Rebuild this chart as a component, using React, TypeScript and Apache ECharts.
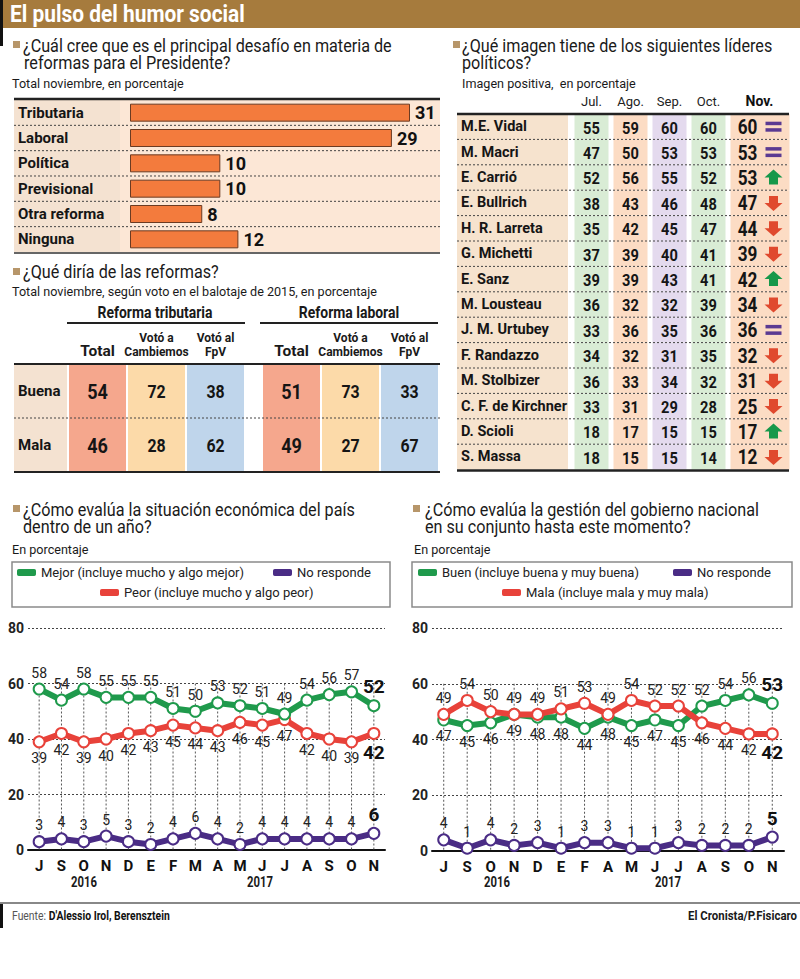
import React, { useEffect, useRef } from 'react';
import * as echarts from 'echarts';

const FONT = "Roboto, 'DejaVu Sans', sans-serif";

// ---------- DATA ----------
const reformCategories = ['Tributaria', 'Laboral', 'Política', 'Previsional', 'Otra reforma', 'Ninguna'];
const reformValues = [31, 29, 10, 10, 8, 12];

const opinionRows = ['Buena', 'Mala'];
const opinionCols = ['Total', 'Votó a\nCambiemos', 'Votó al\nFpV'];
const tributariaValues = [[54, 72, 38], [46, 28, 62]];
const laboralValues = [[51, 73, 33], [49, 27, 67]];

const leaderNames = ['M.E. Vidal', 'M. Macri', 'E. Carrió', 'E. Bullrich', 'H. R. Larreta', 'G. Michetti', 'E. Sanz',
  'M. Lousteau', 'J. M. Urtubey', 'F. Randazzo', 'M. Stolbizer', 'C. F. de Kirchner', 'D. Scioli', 'S. Massa'];
const leaderMonths = ['Jul.', 'Ago.', 'Sep.', 'Oct.', 'Nov.'];
const leaderJul = [55, 47, 52, 38, 35, 37, 39, 36, 33, 34, 36, 33, 18, 18];
const leaderAgo = [59, 50, 56, 43, 42, 39, 39, 32, 36, 32, 33, 31, 17, 15];
const leaderSep = [60, 53, 55, 46, 45, 40, 43, 32, 35, 31, 34, 29, 15, 15];
const leaderOct = [60, 53, 52, 48, 47, 41, 41, 39, 36, 35, 32, 28, 15, 14];
const leaderNov = [60, 53, 53, 47, 44, 39, 42, 34, 36, 32, 31, 25, 17, 12];

const economyMonths = ['J', 'S', 'O', 'N', 'D', 'E', 'F', 'M', 'A', 'M', 'J', 'J', 'A', 'S', 'O', 'N'];
const economyBetter = [58, 54, 58, 55, 55, 55, 51, 50, 53, 52, 51, 49, 54, 56, 57, 52];
const economyWorse = [39, 42, 39, 40, 42, 43, 45, 44, 43, 46, 45, 47, 42, 40, 39, 42];
const economyNR = [3, 4, 3, 5, 3, 2, 4, 6, 4, 2, 4, 4, 4, 4, 4, 6];

const govMonths = ['J', 'S', 'O', 'N', 'D', 'E', 'F', 'A', 'M', 'J', 'J', 'A', 'S', 'O', 'N'];
const govGood = [47, 45, 46, 49, 48, 48, 44, 48, 45, 47, 45, 52, 54, 56, 53];
const govBad = [49, 54, 50, 49, 49, 51, 53, 49, 54, 52, 52, 46, 44, 42, 42];
const govNR = [4, 1, 4, 2, 3, 1, 3, 3, 1, 1, 3, 2, 2, 2, 5];

const yTicks = { min: 0, max: 80, interval: 20 };

// ---------- STYLE ----------
const GREEN = '#1f9a4c';
const RED = '#e8423a';
const PURPLE = '#4a2c85';
const BROWN = '#a67b3d';
const BULLET = '#b7966a';
const opinionColors = ['#f5a78d', '#fcdaa9', '#bfd5eb'];
const leaderColors = ['#d9ecd5', '#fcdcc4', '#e4daee', '#d9ecd5', '#fcdcc4'];

let measureCtx: CanvasRenderingContext2D | null = null;
function textWidth(t: string, size: number, weight: string) {
  if (!measureCtx) measureCtx = document.createElement('canvas').getContext('2d');
  if (!measureCtx) return 0;
  measureCtx.font = `${weight} ${size}px ${FONT}`;
  return measureCtx.measureText(t).width;
}
function fitScale(t: string, size: number, weight: string, target: number) {
  const w = textWidth(t, size, weight);
  return w > 0 ? target / w : 1;
}

function buildOption() {
  const sHead = fitScale('El pulso del humor social', 23, 'bold', 235);
  const sTitle = fitScale('¿Cuál cree que es el principal desafío en materia de', 18, 'normal', 369);
  const sSub = fitScale('Total noviembre, en porcentaje', 13.5, 'normal', 172);
  const sRef = fitScale('Reforma tributaria', 16, 'bold', 115);
  const sYear = fitScale('2016', 14, 'bold', 26);
  const sFoot = 158 / Math.max(1, textWidth('Fuente: ', 12.5, 'normal') + textWidth("D'Alessio Irol, Berensztein", 12.5, 'bold'));
  const sCred = fitScale('El Cronista/P.Fisicaro', 12.5, 'bold', 109);

  const g: any[] = [];
  const rect = (x: number, y: number, w: number, h: number, fill: string, z = 0) =>
    g.push({ type: 'rect', shape: { x, y, width: w, height: h }, style: { fill }, z, silent: true });
  const box = (x: number, y: number, w: number, h: number) =>
    g.push({ type: 'rect', shape: { x, y, width: w, height: h }, style: { fill: 'none', stroke: '#8a8a8a', lineWidth: 1.5 }, z: 5, silent: true });
  const line = (x1: number, y1: number, x2: number, y2: number, stroke: string, lw: number, dash?: number[]) =>
    g.push({ type: 'line', shape: { x1, y1, x2, y2 }, style: { stroke, lineWidth: lw, lineDash: dash }, z: 50, silent: true });
  const text = (x: number, y: number, t: string, size: number, scale: number, opts: any = {}) =>
    g.push({
      type: 'text', x, y, z: 60, silent: true, scaleX: scale,
      style: {
        text: t, fontSize: size, fontFamily: FONT, fontWeight: opts.bold ? 'bold' : 'normal',
        fill: opts.color || '#1a1a1a', align: opts.align || 'left', verticalAlign: 'middle',
        textAlign: opts.align || 'left', textVerticalAlign: 'middle', rich: opts.rich,
      },
    });

  // header
  rect(0, 0, 800, 28, BROWN);
  rect(0, 0, 3, 46, '#111', 1);
  text(10, 14, 'El pulso del humor social', 23, sHead, { bold: true, color: '#fff' });

  // Q1
  rect(13, 41, 7, 7, BULLET);
  text(23, 46, '¿Cuál cree que es el principal desafío en materia de', 18, sTitle);
  text(24, 63, 'reformas para el Presidente?', 18, sTitle);
  text(12, 83, 'Total noviembre, en porcentaje', 13.5, sSub);
  rect(14, 100, 106, 152, '#f4e2d1');
  rect(120, 100, 320, 152, '#fce7d6');
  line(14, 99, 440, 99, '#222', 2.5);
  for (let k = 1; k < reformCategories.length; k++) line(14, 100 + k * 25.33, 440, 100 + k * 25.33, '#444', 1, [2, 2]);
  line(14, 253, 440, 253, '#333', 1.5);

  // Q2
  rect(13, 268, 7, 7, BULLET);
  text(23, 272, '¿Qué diría de las reformas?', 18, sTitle);
  text(12, 291, 'Total noviembre, según voto en el balotaje de 2015, en porcentaje', 13.5, sSub);
  text(155, 313, 'Reforma tributaria', 16, sRef, { bold: true, align: 'center' });
  text(349, 313, 'Reforma laboral', 16, sRef, { bold: true, align: 'center' });
  line(67, 323, 245, 323, '#222', 2);
  line(260, 323, 438, 323, '#222', 2);
  rect(14, 364, 53, 108, '#f4e2d1');
  line(14, 364, 440, 364, '#222', 2);
  line(14, 418, 440, 418, '#444', 1, [2, 2]);
  line(14, 472, 440, 472, '#222', 2);

  // Q3
  rect(453, 41, 7, 7, BULLET);
  text(462, 46, '¿Qué imagen tiene de los siguientes líderes', 18, sTitle);
  text(462, 63, 'políticos?', 18, sTitle);
  text(462, 83, 'Imagen positiva,  en porcentaje', 13.5, sSub);
  const LT = 114, LH = 25.4;
  rect(457, LT, 111, LH * leaderNames.length, '#f6e3ce');
  line(457, LT, 789, LT, '#222', 2.5);
  for (let k = 1; k < leaderNames.length; k++) line(457, LT + k * LH, 789, LT + k * LH, '#444', 1, [2, 2]);
  line(457, LT + LH * leaderNames.length + 1, 789, LT + LH * leaderNames.length + 1, '#222', 2.5);

  // Q4
  rect(13, 505, 7, 7, BULLET);
  text(23, 510, '¿Cómo evalúa la situación económica del país', 18, sTitle);
  text(23, 527, 'dentro de un año?', 18, sTitle);
  text(12, 549, 'En porcentaje', 13.5, sSub);
  box(12, 562, 378, 45);
  text(84, 882, '2016', 14, sYear, { bold: true, align: 'center' });
  text(260, 882, '2017', 14, sYear, { bold: true, align: 'center' });

  // Q5
  rect(413, 505, 7, 7, BULLET);
  text(425, 510, '¿Cómo evalúa la gestión del gobierno nacional', 18, sTitle);
  text(425, 527, 'en su conjunto hasta este momento?', 18, sTitle);
  text(414, 549, 'En porcentaje', 13.5, sSub);
  box(412, 562, 380, 45);
  text(497, 882, '2016', 14, sYear, { bold: true, align: 'center' });
  text(668, 882, '2017', 14, sYear, { bold: true, align: 'center' });

  // footer
  line(0, 903, 800, 903, '#888', 2);
  rect(0, 903, 3, 25, '#111', 1);
  text(12, 916, "{a|Fuente: }{b|D'Alessio Irol, Berensztein}", 12.5, sFoot, {
    rich: {
      a: { fontSize: 12.5, fontFamily: FONT, fill: '#555', color: '#555' },
      b: { fontSize: 12.5, fontFamily: FONT, fontWeight: 'bold', fill: '#111', color: '#111' },
    },
  });
  text(797, 916, 'El Cronista/P.Fisicaro', 12.5, sCred, { bold: true, align: 'right' });

  // ---------- tables ----------
  const tableData = (vals: number[][]) => {
    const out: number[][] = [];
    vals.forEach((row, r) => row.forEach((v, c) => out.push([c, r, v])));
    return out;
  };
  const cellText = (x: number, y: number, v: number, size: number) => ({
    type: 'text', x, y, scaleX: 0.86,
    style: { text: String(v), fontSize: size, fontWeight: 'bold', fontFamily: FONT, fill: '#151515', align: 'center', verticalAlign: 'middle', textAlign: 'center', textVerticalAlign: 'middle' },
  });
  const opinionRender = (params: any, api: any) => {
    const c = api.value(0), r = api.value(1), v = api.value(2);
    const p = api.coord([c, r]);
    const s = api.size([1, 1]);
    return {
      type: 'group',
      children: [
        { type: 'rect', shape: { x: p[0] - s[0] / 2 + 1, y: p[1] - s[1] / 2, width: s[0] - 2, height: s[1] }, style: { fill: opinionColors[c] } },
        cellText(p[0], p[1] + 1, v, c === 0 ? 21 : 18.5),
      ],
    };
  };

  const leaderCols = [leaderJul, leaderAgo, leaderSep, leaderOct, leaderNov];
  const leaderData: number[][] = [];
  leaderNames.forEach((_, r) => {
    leaderCols.forEach((col, c) => {
      const trend = c === 4 ? Math.sign(leaderNov[r] - leaderOct[r]) : 0;
      leaderData.push([c, r, col[r], trend]);
    });
  });
  const leaderRender = (params: any, api: any) => {
    const c = api.value(0), r = api.value(1), v = api.value(2), t = api.value(3);
    const p = api.coord([c, r]);
    const s = api.size([1, 1]);
    const w = s[0] - 5;
    const children: any[] = [
      { type: 'rect', shape: { x: p[0] - w / 2, y: p[1] - s[1] / 2, width: c === 4 ? w + 25 : w, height: s[1] }, style: { fill: leaderColors[c] } },
      cellText(p[0], p[1] + 1, v, c === 4 ? 20 : 17),
    ];
    if (c === 4) {
      const sx = p[0] + 26, cy = p[1];
      if (t === 0) {
        children.push({ type: 'rect', shape: { x: sx - 8, y: cy - 5, width: 16, height: 3.5 }, style: { fill: '#5b3a92' } });
        children.push({ type: 'rect', shape: { x: sx - 8, y: cy + 1.5, width: 16, height: 3.5 }, style: { fill: '#5b3a92' } });
      } else if (t > 0) {
        children.push({ type: 'polygon', shape: { points: [[sx, cy - 8], [sx + 9, cy], [sx + 4.5, cy], [sx + 4.5, cy + 7], [sx - 4.5, cy + 7], [sx - 4.5, cy], [sx - 9, cy]] }, style: { fill: '#16984a' } });
      } else {
        children.push({ type: 'polygon', shape: { points: [[sx, cy + 8], [sx + 9, cy], [sx + 4.5, cy], [sx + 4.5, cy - 7], [sx - 4.5, cy - 7], [sx - 4.5, cy], [sx - 9, cy]] }, style: { fill: '#e0492e' } });
      }
    }
    return { type: 'group', children };
  };

  // ---------- line charts ----------
  const lineSeries = (name: string, values: number[], other: number[] | null, priority: boolean, color: string, ai: number, z: number) => {
    const last = values.length - 1;
    return {
      type: 'line', name, xAxisIndex: ai, yAxisIndex: ai, z,
      data: values.map((v, i) => ({
        value: v,
        label: {
          position: other ? ((priority ? v >= other[i] : v > other[i]) ? 'top' : 'bottom') : 'top',
          ...(i === last ? { fontSize: 19, fontWeight: 'bold', color: '#111' } : {}),
        },
      })),
      symbol: 'emptyCircle', symbolSize: 11, showAllSymbol: true,
      lineStyle: { color, width: 6 },
      itemStyle: { color, borderWidth: 2.5 },
      label: { show: true, fontSize: 14, color: '#222', fontFamily: FONT, distance: 3 },
      emphasis: { disabled: true },
    };
  };
  const dropLines = (months: string[], ai: number) => ({
    type: 'custom', xAxisIndex: ai, yAxisIndex: ai, z: 1, silent: true,
    data: months.map((_, i) => [i, 0]),
    renderItem: (params: any, api: any) => {
      const i = api.value(0);
      const a = api.coord([i, 60]);
      const b = api.coord([i, 0]);
      return { type: 'line', shape: { x1: a[0], y1: a[1], x2: b[0], y2: b[1] }, style: { stroke: '#555', lineWidth: 1, lineDash: [2, 2] } };
    },
  });

  const catLineX = (months: string[], gi: number) => ({
    type: 'category', gridIndex: gi, data: months, boundaryGap: true,
    axisLine: { lineStyle: { color: '#111', width: 2 } }, axisTick: { show: false },
    axisLabel: { fontSize: 15, fontWeight: 'bold', color: '#111', fontFamily: FONT, margin: 8, interval: 0 },
    splitLine: { show: false },
  });
  const valLineY = (gi: number) => ({
    type: 'value', gridIndex: gi, ...yTicks,
    axisLine: { show: false }, axisTick: { show: false },
    axisLabel: { fontSize: 14, fontWeight: 'bold', color: '#222', fontFamily: FONT, margin: 4 },
    splitLine: { lineStyle: { color: '#444', type: [2, 2], width: 1 } },
  });

  const legendBase = {
    icon: 'roundRect', itemWidth: 19, itemHeight: 7, padding: 0, selectedMode: false,
    textStyle: { fontSize: 13, color: '#222', fontFamily: FONT },
  };
  const leg = (name: string, color: string, left: number, top: number) => ({
    ...legendBase, left, top, data: [{ name, itemStyle: { color, borderWidth: 0 } }],
  });

  const hiddenAxis = { axisLine: { show: false }, axisTick: { show: false }, splitLine: { show: false } };
  const opinionHeader = {
    interval: 0, margin: 5, color: '#1a1a1a', fontFamily: FONT,
    formatter: (v: string, i: number) => (i === 0 ? `{t|${v}}` : `{s|${v}}`),
    rich: { t: { fontSize: 15.5, fontWeight: 'bold', fontFamily: FONT }, s: { fontSize: 12, fontWeight: 'bold', lineHeight: 14, fontFamily: FONT, align: 'center' } },
  };

  return {
    animation: false,
    backgroundColor: '#fff',
    textStyle: { fontFamily: FONT },
    graphic: { elements: g },
    legend: [
      leg('Mejor (incluye mucho y algo mejor)', GREEN, 17, 566),
      leg('No responde', PURPLE, 273, 566),
      leg('Peor (incluye mucho y algo peor)', RED, 100, 586),
      leg('Buen (incluye buena y muy buena)', GREEN, 418, 566),
      leg('No responde ', PURPLE, 673, 566),
      leg('Mala (incluye mala y muy mala)', RED, 502, 586),
    ],
    grid: [
      { left: 130, top: 100, width: 280, height: 152 },
      { left: 68, top: 364, width: 177, height: 108 },
      { left: 262, top: 364, width: 177, height: 108 },
      { left: 572, top: LT, width: 195, height: LH * leaderNames.length },
      { left: 28, top: 628, width: 357, height: 222 },
      { left: 432, top: 628, width: 352, height: 223 },
    ],
    xAxis: [
      { type: 'value', gridIndex: 0, min: 0, max: 31, show: false },
      { type: 'category', gridIndex: 1, data: opinionCols, position: 'top', ...hiddenAxis, axisLabel: opinionHeader },
      { type: 'category', gridIndex: 2, data: opinionCols, position: 'top', ...hiddenAxis, axisLabel: opinionHeader },
      {
        type: 'category', gridIndex: 3, data: leaderMonths, position: 'top', ...hiddenAxis,
        axisLabel: {
          interval: 0, margin: 6, fontSize: 13, color: '#222', fontFamily: FONT,
          formatter: (v: string, i: number) => (i === 4 ? `{n|${v}}` : v),
          rich: { n: { fontSize: 14, fontWeight: 'bold', color: '#111', fontFamily: FONT, padding: [0, 0, 0, 24] } },
        },
      },
      catLineX(economyMonths, 4),
      catLineX(govMonths, 5),
    ],
    yAxis: [
      {
        type: 'category', gridIndex: 0, data: reformCategories, inverse: true, ...hiddenAxis,
        axisLabel: { align: 'left', margin: 112, fontSize: 15, fontWeight: 'bold', color: '#151515', fontFamily: FONT },
      },
      {
        type: 'category', gridIndex: 1, data: opinionRows, inverse: true, ...hiddenAxis,
        axisLabel: { align: 'left', margin: 50, fontSize: 15, fontWeight: 'bold', color: '#151515', fontFamily: FONT },
      },
      { type: 'category', gridIndex: 2, data: opinionRows, inverse: true, ...hiddenAxis, axisLabel: { show: false } },
      {
        type: 'category', gridIndex: 3, data: leaderNames, inverse: true, ...hiddenAxis,
        axisLabel: { align: 'left', margin: 111, fontSize: 14.5, fontWeight: 'bold', color: '#151515', fontFamily: FONT, interval: 0 },
      },
      valLineY(4),
      valLineY(5),
    ],
    series: [
      {
        type: 'bar', xAxisIndex: 0, yAxisIndex: 0, data: reformValues, barWidth: 18,
        itemStyle: { color: '#f37b3d', borderColor: '#6b3b22', borderWidth: 1 },
        label: { show: true, position: 'right', distance: 5, fontSize: 18, fontWeight: 'bold', color: '#111', fontFamily: FONT },
        emphasis: { disabled: true },
      },
      { type: 'custom', xAxisIndex: 1, yAxisIndex: 1, data: tableData(tributariaValues), renderItem: opinionRender, silent: true },
      { type: 'custom', xAxisIndex: 2, yAxisIndex: 2, data: tableData(laboralValues), renderItem: opinionRender, silent: true },
      { type: 'custom', xAxisIndex: 3, yAxisIndex: 3, data: leaderData, renderItem: leaderRender, silent: true },
      dropLines(economyMonths, 4),
      lineSeries('No responde', economyNR, null, true, PURPLE, 4, 3),
      lineSeries('Peor (incluye mucho y algo peor)', economyWorse, economyBetter, false, RED, 4, 4),
      lineSeries('Mejor (incluye mucho y algo mejor)', economyBetter, economyWorse, true, GREEN, 4, 5),
      dropLines(govMonths, 5),
      lineSeries('No responde ', govNR, null, true, PURPLE, 5, 3),
      lineSeries('Buen (incluye buena y muy buena)', govGood, govBad, false, GREEN, 5, 4),
      lineSeries('Mala (incluye mala y muy mala)', govBad, govGood, true, RED, 5, 5),
    ],
  };
}

export default function App() {
  const ref = useRef<HTMLDivElement>(null);
  useEffect(() => {
    document.body.style.margin = '0';
    const chart = echarts.init(ref.current!, null, { renderer: 'svg' });
    chart.setOption(buildOption() as any);
    return () => chart.dispose();
  }, []);
  return <div ref={ref} style={{ position: 'absolute', left: 0, top: 0, width: 800, height: 979, background: '#fff' }} />;
}
